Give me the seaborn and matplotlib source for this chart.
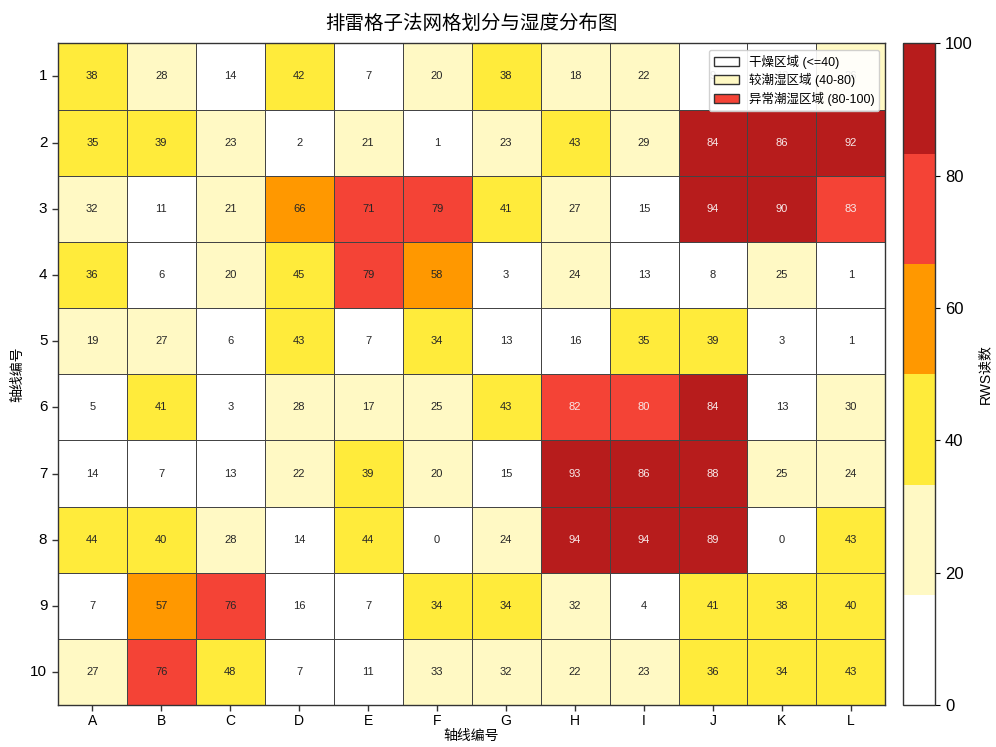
import numpy as np
import pandas as pd
import matplotlib
matplotlib.use("Agg")
import matplotlib.pyplot as plt
from matplotlib.colors import ListedColormap
from matplotlib.patches import Patch
import seaborn as sns

plt.rcParams['font.family'] = ['Liberation Sans', 'Noto Sans CJK SC', 'DejaVu Sans']
plt.rcParams['axes.unicode_minus'] = False

# Grid axes
col_labels = ["A", "B", "C", "D", "E", "F", "G", "H", "I", "J", "K", "L"]
row_labels = ["1", "2", "3", "4", "5", "6", "7", "8", "9", "10"]

# RWS readings per grid cell, one list per row
row_1 = [38, 28, 14, 42, 7, 20, 38, 18, 22, 9, 12, 26]
row_2 = [35, 39, 23, 2, 21, 1, 23, 43, 29, 84, 86, 92]
row_3 = [32, 11, 21, 66, 71, 79, 41, 27, 15, 94, 90, 83]
row_4 = [36, 6, 20, 45, 79, 58, 3, 24, 13, 8, 25, 1]
row_5 = [19, 27, 6, 43, 7, 34, 13, 16, 35, 39, 3, 1]
row_6 = [5, 41, 3, 28, 17, 25, 43, 82, 80, 84, 13, 30]
row_7 = [14, 7, 13, 22, 39, 20, 15, 93, 86, 88, 25, 24]
row_8 = [44, 40, 28, 14, 44, 0, 24, 94, 94, 89, 0, 43]
row_9 = [7, 57, 76, 16, 7, 34, 34, 32, 4, 41, 38, 40]
row_10 = [27, 76, 48, 7, 11, 33, 32, 22, 23, 36, 34, 43]

rows = [row_1, row_2, row_3, row_4, row_5, row_6, row_7, row_8, row_9, row_10]
df = pd.DataFrame(rows, index=row_labels, columns=col_labels)

# Six-step humidity palette
palette = ["#FFFFFF", "#FFF9C4", "#FFEB3B", "#FF9800", "#F44336", "#B71C1C"]
cmap = ListedColormap(palette)

fig = plt.figure(figsize=(9.96, 7.47), dpi=100)
ax = fig.add_axes([0.058, 0.056, 0.831, 0.886])
cax = fig.add_axes([0.907, 0.056, 0.032, 0.886])

sns.heatmap(df, ax=ax, cbar_ax=cax, cmap=cmap, vmin=0, vmax=100,
            annot=True, fmt="d", annot_kws={"fontsize": 8},
            linewidths=0.7, linecolor="#444444",
            cbar_kws={"label": "RWS读数", "ticks": [0, 20, 40, 60, 80, 100]})

# Light text on the strongly saturated cells
for txt in ax.texts:
    v = int(txt.get_text())
    txt.set_color("#F8E8E8" if v >= 80 else "#262626")

for sp in ax.spines.values():
    sp.set_visible(True)
    sp.set_edgecolor("#333333")
    sp.set_linewidth(1)

cbar = ax.collections[0].colorbar
cbar.outline.set_visible(True)
cbar.outline.set_edgecolor("#333333")
cbar.outline.set_linewidth(1)
cbar.ax.tick_params(labelsize=12)
cbar.set_label("RWS读数", fontsize=10)

ax.set_yticklabels(row_labels, rotation=0, fontsize=11)
ax.set_xticklabels(col_labels, rotation=0, fontsize=10)
ax.tick_params(axis="both", length=4, width=1, color="#333333")
ax.tick_params(axis="x", pad=2)
ax.set_xlabel("轴线编号", fontsize=10, labelpad=1)
ax.set_ylabel("轴线编号", fontsize=10)
ax.set_title("排雷格子法网格划分与湿度分布图", fontsize=14, pad=10)

handles = [
    Patch(facecolor="#FFFFFF", edgecolor="#333333", label="干燥区域 (<=40)"),
    Patch(facecolor="#FFF9C4", edgecolor="#333333", label="较潮湿区域 (40-80)"),
    Patch(facecolor="#F44336", edgecolor="#333333", label="异常潮湿区域 (80-100)"),
]
ax.legend(handles=handles, loc="upper right", fontsize=9, framealpha=0.9,
          labelspacing=0.35)

fig.savefig("out.png", dpi=100)
